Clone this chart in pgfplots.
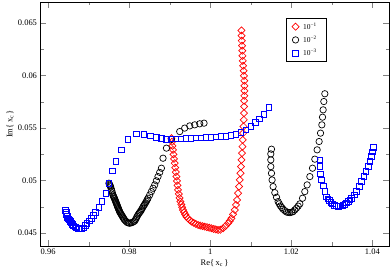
\documentclass[border=0pt]{standalone}
\usepackage{fontspec}
\setmainfont{Liberation Serif}
\usepackage{pgfplots}
\pgfplotsset{compat=1.18}
\begin{document}
\fontsize{8.5}{10}\selectfont
\begin{tikzpicture}
\useasboundingbox (-40bp,-26bp) rectangle (350bp,246bp);
\begin{axis}[
  scale only axis,
  width=349bp, height=244bp,
  xmin=0.958, xmax=1.0441,
  ymin=0.04376, ymax=0.067,
  xtick={0.96,0.98,1,1.02,1.04},
  xticklabels={0.96,0.98,1,1.02,1.04},
  ytick={0.045,0.05,0.055,0.06,0.065},
  yticklabels={0.045,0.05,0.055,0.06,0.065},
  minor x tick num=1, minor y tick num=1,
  tick align=inside,
  major tick length=6bp, minor tick length=3.5bp,
  scaled ticks=false,
  tick label style={font=\fontsize{8.5}{10}\selectfont},
  xlabel={Re\{\,x\textsubscript{c}\,\}},
  ylabel={Im\{\,x\textsubscript{c}\,\}},
  label style={font=\fontsize{8.5}{10}\selectfont},
  every axis x label/.style={at={(rel axis cs:0.5,0)}, anchor=center, yshift=-17bp},
  every axis y label/.style={at={(rel axis cs:0,0.5)}, rotate=90, anchor=center, yshift=30bp},
  legend style={at={(rel axis cs:0.822,0.934)}, anchor=north east,
    font=\fontsize{7.5}{9}\selectfont, draw=black, line width=0.5pt,
    row sep=1.5bp, inner xsep=6bp, inner ysep=2.5bp,
    nodes={inner xsep=4bp}},
  legend cell align=left,
  axis line style={line width=0.6pt},
]
\addplot[only marks, red, mark=square, mark size=2.5bp, mark options={rotate=45, line width=0.7pt}] coordinates {
(0.99042,0.05403)(0.99054,0.05368)(0.99067,0.0533)(0.99081,0.05292)(0.99094,0.05249)
(0.99106,0.05206)(0.99123,0.05165)(0.99136,0.05122)(0.99151,0.0508)(0.99165,0.05037)
(0.99178,0.04996)(0.99193,0.04953)(0.99205,0.0491)(0.99225,0.04872)(0.99244,0.04834)
(0.99264,0.04799)(0.99286,0.04772)(0.99306,0.04745)(0.99328,0.04719)(0.99356,0.04697)
(0.99383,0.04676)(0.99412,0.04655)(0.99452,0.04638)(0.99494,0.04622)(0.99536,0.04608)
(0.9959,0.04597)(0.99644,0.04586)(0.99699,0.04576)(0.99753,0.04571)(0.9981,0.04565)
(0.99864,0.0456)(0.99919,0.04555)(0.99975,0.0455)(1.0003,0.04545)(1.00084,0.04539)
(1.00138,0.04534)(1.00193,0.04529)(1.00247,0.04531)(1.00316,0.04545)(1.00378,0.04567)
(1.0044,0.04593)(1.00481,0.04614)(1.00523,0.0464)(1.00563,0.04678)(1.00605,0.04719)
(1.00635,0.04767)(1.00662,0.04815)(1.00686,0.04879)(1.00711,0.04942)(1.00728,0.05006)
(1.00746,0.05069)(1.00758,0.05132)(1.0077,0.05196)(1.00783,0.0526)(1.00795,0.05323)
(1.00802,0.05387)(1.0081,0.05451)(1.0082,0.05514)(1.00827,0.05578)(1.00832,0.05642)
(1.00835,0.05705)(1.00835,0.05759)(1.0084,0.05807)(1.00844,0.05854)(1.00844,0.05902)
(1.0084,0.0595)(1.00832,0.05997)(1.00822,0.06045)(1.0081,0.06093)(1.00802,0.0614)
(1.00795,0.06188)(1.0079,0.06236)(1.00785,0.06284)(1.00778,0.06331)(1.00773,0.06379)
(1.0077,0.06429)
};
\addlegendentry{10\textsuperscript{−1}}
\addplot[only marks, black, mark=o, mark size=3.2bp, mark options={line width=0.7pt}] coordinates {
(0.97501,0.04974)(0.97512,0.04965)(0.97522,0.04956)(0.97533,0.04948)(0.97543,0.04939)
(0.97558,0.0492)(0.97572,0.049)(0.97586,0.04881)(0.976,0.04862)
(0.97611,0.04852)(0.97621,0.04843)(0.97632,0.04834)(0.97642,0.04824)(0.97653,0.04813)(0.97663,0.04803)
(0.97674,0.04793)(0.97684,0.04783)(0.97694,0.04773)(0.97703,0.04763)(0.97713,0.04753)
(0.97723,0.04743)(0.97734,0.04733)(0.97744,0.04723)(0.97755,0.04713)(0.97765,0.04703)
(0.9778,0.04692)(0.97796,0.04682)(0.97812,0.04672)(0.97827,0.04662)
(0.97842,0.04652)(0.97858,0.04643)(0.97873,0.04633)(0.97889,0.04624)(0.9792,0.04611)
(0.9795,0.046)(0.97981,0.04596)(0.98012,0.04593)(0.98043,0.04596)(0.98074,0.046)(0.98105,0.04606)
(0.98136,0.04614)(0.98157,0.04628)(0.98178,0.04643)(0.98197,0.04658)(0.98217,0.04672)(0.98238,0.04684)
(0.98259,0.04696)(0.9828,0.04707)(0.98301,0.04719)(0.98321,0.04733)
(0.98341,0.04748)(0.98362,0.04761)(0.98383,0.04774)(0.98404,0.04788)(0.98425,0.04802)(0.98445,0.04816)
(0.98464,0.04831)(0.98506,0.04862)(0.98548,0.04894)
(0.98589,0.04926)(0.9863,0.04958)(0.98671,0.04997)(0.98711,0.05037)(0.98753,0.05077)(0.98795,0.05117)(0.98835,0.05212)(0.98919,0.05308)
(0.99042,0.05392)(0.99247,0.05466)(0.9937,0.05499)(0.99494,0.0552)(0.99617,0.0553)
(0.99741,0.0554)(0.99847,0.05546)
(1.01511,0.05298)(1.01494,0.05253)(1.01494,0.05196)(1.01494,0.05132)(1.01511,0.05069)
(1.01526,0.05005)(1.01551,0.04942)(1.01593,0.04884)(1.01635,0.0484)(1.01674,0.04799)
(1.01703,0.04778)(1.01733,0.04758)(1.01765,0.04742)(1.01798,0.04726)(1.0184,0.04713)(1.01881,0.047)(1.01922,0.04696)(1.01963,0.04694)(1.02004,0.04698)(1.02044,0.04703)
(1.02086,0.0472)(1.02128,0.04736)(1.0217,0.04756)(1.0221,0.04777)(1.02277,0.04831)(1.02333,0.04894)(1.0239,0.04958)
(1.02457,0.05037)(1.02523,0.05117)(1.0258,0.05203)(1.02637,0.05292)(1.02686,0.05371)
(1.02721,0.05451)(1.02753,0.0553)(1.0277,0.05603)(1.02785,0.05673)(1.02802,0.05752)
(1.02827,0.05826)
};
\addlegendentry{10\textsuperscript{−2}}
\addplot[only marks, blue, mark=square, mark size=2.8bp, mark options={line width=0.7pt}] coordinates {
(0.96432,0.04713)(0.96445,0.04694)(0.96457,0.04675)(0.9647,0.0466)(0.96482,0.04645)(0.96506,0.04634)(0.96531,0.04624)(0.96556,0.0461)(0.9658,0.04595)
(0.96605,0.04581)(0.9663,0.04567)(0.96667,0.04557)(0.96704,0.04548)(0.96741,0.04543)(0.96778,0.04538)(0.96827,0.04541)(0.96877,0.04548)(0.96918,0.0457)(0.96958,0.04593)
(0.97012,0.04616)(0.97067,0.0464)(0.97116,0.04667)(0.97165,0.04694)(0.97254,0.04745)(0.97328,0.04799)(0.9742,0.04879)
(0.97501,0.04974)(0.97585,0.05091)(0.97667,0.0518)(0.97807,0.05292)(0.9797,0.05394)
(0.98178,0.05444)(0.98358,0.05438)(0.98523,0.05425)(0.98672,0.05413)(0.98795,0.054)
(0.98919,0.05394)(0.99025,0.05397)(0.99148,0.05397)(0.99272,0.05397)(0.99395,0.05401)
(0.99519,0.05401)(0.99642,0.05406)(0.99765,0.05406)(0.99889,0.05409)(1.00012,0.05411)
(1.00136,0.05416)(1.00259,0.05418)(1.00383,0.05422)(1.00506,0.05428)(1.0063,0.05439)
(1.00753,0.05457)(1.00877,0.05482)(1.01,0.05514)(1.01111,0.05552)(1.0121,0.05587)
(1.01321,0.05632)(1.01444,0.05695)
(1.02704,0.05196)(1.02704,0.05132)(1.02721,0.05063)(1.02746,0.05005)(1.02785,0.04948)
(1.02827,0.04894)(1.02869,0.04846)(1.02901,0.04826)(1.02933,0.04808)(1.02975,0.04791)(1.03017,0.04777)(1.03066,0.04766)(1.03116,0.04758)(1.03166,0.04756)
(1.03215,0.04758)(1.03268,0.04765)(1.03321,0.04774)(1.03362,0.04786)(1.03402,0.04799)(1.03444,0.04815)(1.03486,0.04831)(1.03551,0.04862)
(1.0361,0.04894)(1.03674,0.04942)(1.03733,0.04989)(1.0379,0.05037)(1.0384,0.05085)
(1.03896,0.05132)(1.03938,0.0518)(1.0398,0.05228)(1.04,0.05272)(1.0402,0.05317)
};
\addlegendentry{10\textsuperscript{−3}}
\end{axis}
\end{tikzpicture}
\end{document}
